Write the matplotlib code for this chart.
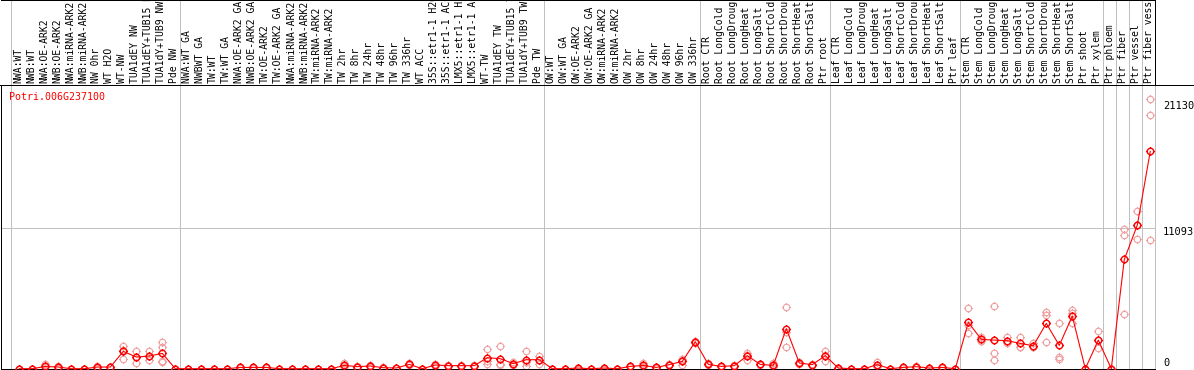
import matplotlib
matplotlib.use("Agg")
import matplotlib.pyplot as plt
import matplotlib.path as mpath
import matplotlib.transforms as mtransforms
from matplotlib.lines import Line2D

labels = [
    "NWA:WT", "NWB:WT", "NWA:OE-ARK2", "NWB:OE-ARK2", "NWA:miRNA-ARK2", "NWB:miRNA-ARK2",
    "NW 0hr", "WT H2O", "WT-NW", "TUA1dEY NW", "TUA1dEY+TUB15 NW", "TUA1dY+TUB9 NW", "Pde NW",
    "NWA:WT GA", "NWBWT GA", "TW:WT", "TW:WT GA", "NWA:OE-ARK2 GA", "NWB:OE-ARK2 GA",
    "TW:OE-ARK2", "TW:OE-ARK2 GA", "NWA:miRNA-ARK2", "NWB:miRNA-ARK2", "TW:miRNA-ARK2",
    "TW:miRNA-ARK2", "TW 2hr", "TW 8hr", "TW 24hr", "TW 48hr", "TW 96hr", "TW 336hr", "WT ACC",
    "35S::etr1-1 H2O", "35S::etr1-1 ACC", "LMX5::etr1-1 H2O", "LMX5::etr1-1 ACC", "WT-TW",
    "TUA1dEY TW", "TUA1dEY+TUB15 TW", "TUA1dY+TUB9 TW", "Pde TW",
    "OW:WT", "OW:WT GA", "OW:OE-ARK2", "OW:OE-ARK2 GA", "OW:miRNA-ARK2", "OW:miRNA-ARK2",
    "OW 2hr", "OW 8hr", "OW 24hr", "OW 48hr", "OW 96hr", "OW 336hr",
    "Root CTR", "Root LongCold", "Root LongDrought", "Root LongHeat", "Root LongSalt",
    "Root ShortCold", "Root ShortDrought", "Root ShortHeat", "Root ShortSalt", "Ptr root",
    "Leaf CTR", "Leaf LongCold", "Leaf LongDrought", "Leaf LongHeat", "Leaf LongSalt",
    "Leaf ShortCold", "Leaf ShortDrought", "Leaf ShortHeat", "Leaf ShortSalt", "Ptr leaf",
    "Stem CTR", "Stem LongCold", "Stem LongDrought", "Stem LongHeat", "Stem LongSalt",
    "Stem ShortCold", "Stem ShortDrought", "Stem ShortHeat", "Stem ShortSalt", "Ptr shoot",
    "Ptr xylem", "Ptr phloem", "Ptr fiber", "Ptr vessel", "Ptr fiber vessel",
]

main_values = [
    0, 0, 180, 130, 0, 0, 130, 130, 1370, 920, 1000, 1210, 0,
    0, 0, 0, 0, 100, 100, 100, 0, 0, 0, 0, 0, 260, 160, 210, 80, 55, 340, 0, 290, 240,
    240, 240, 870, 790, 400, 710, 710,
    0, 0, 50, 0, 50, 0, 180, 260, 100, 320, 580, 2130,
    340, 180, 240, 1030, 340, 260, 3160, 450, 320, 1030,
    50, 0, 0, 320, 0, 100, 160, 50, 100, 0,
    3660, 2315, 2260, 2210, 2000, 1815, 3580, 1840, 4160, 0, 2260,
    0, 8630, 11340, 17180,
]

replicates = [
    [0, 0, 0], [0, 0, 0], [390, 150, 0], [200, 120, 70], [0, 0, 0], [0, 0, 0],
    [180, 130, 80], [160, 130, 100], [1820, 1500, 790], [1370, 920, 470],
    [1370, 970, 660], [2080, 1680, 580, 500], [0, 0, 0],
    [0, 0, 0], [0, 0, 0], [0, 0, 0], [0, 0, 0], [150, 100, 50], [130, 100, 70],
    [140, 100, 60], [0, 0, 0], [0, 0, 0], [0, 0, 0], [0, 0, 0], [0, 0, 0],
    [450, 230, 100], [200, 160, 120], [280, 210, 140], [120, 80, 40], [80, 55, 30],
    [420, 340, 260], [0, 0, 0], [380, 290, 200], [300, 240, 180], [290, 240, 190],
    [300, 240, 180], [1580, 630, 400], [1760, 350, 260], [500, 400, 300],
    [1400, 490, 240], [1030, 700, 400],
    [0, 0, 0], [0, 0, 0], [90, 50, 10], [0, 0, 0], [90, 50, 10], [0, 0, 0],
    [230, 180, 130], [450, 200, 130], [140, 100, 60], [380, 320, 260],
    [800, 680, 260], [2200, 2130, 2060],
    [420, 340, 260], [230, 180, 130], [300, 240, 180], [1260, 1110, 710],
    [400, 340, 280], [470, 200, 110], [4850, 2890, 1740], [520, 450, 380],
    [380, 320, 260], [1400, 1110, 580],
    [90, 50, 10], [0, 0, 0], [0, 0, 0], [520, 320, 120], [0, 0, 0], [140, 100, 60],
    [200, 160, 120], [90, 50, 10], [140, 100, 60], [0, 0, 0],
    [4760, 3430, 2790], [2520, 2210, 2210], [4920, 1210, 680], [2470, 2160, 2000],
    [2520, 1740, 1740], [2000, 1740, 1710], [4500, 4230, 2100], [3580, 950, 790],
    [4630, 4370, 3580], [0, 0, 0], [2950, 2230, 1600],
    [0, 0, 0], [11030, 10530, 4290], [12440, 11370, 10210], [21340, 20070, 10130],
]

group_starts = [0, 13, 41, 53, 63, 73, 84, 85, 86, 87, 88]
ytick_values = [0, 11093, 21130]
ytick_labels = ["0", "11093", "21130"]
gene_name = "Potri.006G237100"

W, H = 1194, 370
fig = plt.figure(figsize=(W / 100, H / 100), dpi=100)
GRAY = "#c0c0c0"
PINK = "#f0a0a0"
MONO = "DejaVu Sans Mono"
LW = 0.72

xl = (-1.408, 87.362)
ax = fig.add_axes([1 / W, 1 / H, 1154 / W, 284 / H])
ax.set_xlim(*xl)
ax.set_ylim(-24, 22415)
ax.set_xticks([])
ax.set_yticks([])
for s in ["left", "bottom", "top"]:
    ax.spines[s].set_color("black")
    ax.spines[s].set_linewidth(LW)
ax.spines["right"].set_color(GRAY)
ax.spines["right"].set_linewidth(LW)

ax_top = fig.add_axes([1 / W, 285 / H, 1154 / W, 85 / H])
ax_top.set_xlim(*xl)
ax_top.set_ylim(0, 85)
ax_top.set_xticks([])
ax_top.set_yticks([])
ax_top.patch.set_alpha(0)
ax_top.spines["left"].set_visible(False)
ax_top.spines["bottom"].set_visible(False)
ax_top.spines["top"].set_linewidth(LW)
ax_top.spines["right"].set_linewidth(LW)

for g in group_starts[:-1]:
    for a in (ax, ax_top):
        a.axvline(g - 0.63, color=GRAY, lw=LW, zorder=0)

ax.axhline(11093, color=GRAY, lw=LW, zorder=0)

fig.add_artist(Line2D([0, 1], [285 / H, 285 / H], transform=fig.transFigure,
                      color="black", lw=LW))

for i, lab in enumerate(labels):
    ax_top.text(i - 0.1, 2, lab, rotation=90, ha="center", va="bottom",
                fontsize=7, family=MONO, color="black", clip_on=False)

# custom marker: circle with four outward ticks
circ = mpath.Path.unit_circle()
verts = list(circ.vertices)
codes = list(circ.codes)
for dx, dy in [(0, 1), (0, -1), (1, 0), (-1, 0)]:
    verts += [(dx * 1.0, dy * 1.0), (dx * 1.4, dy * 1.4)]
    codes += [mpath.Path.MOVETO, mpath.Path.LINETO]
marker = mpath.Path(verts, codes)

for i, r in enumerate(replicates):
    ax.plot([i] * len(r), r, linestyle="none", marker=marker, ms=6.5,
            mfc="none", mec=PINK, mew=0.8, clip_on=False, zorder=2)

ax.plot(range(len(main_values)), main_values, color="red", lw=0.8,
        marker=marker, ms=6.5, mfc="none", mec="red", mew=1.0,
        clip_on=False, zorder=3)

fig.text(9 / W, 1 - 97 / H, gene_name, color="red", ha="left", va="center",
         fontsize=7.2, family=MONO)

blend = mtransforms.blended_transform_factory(fig.transFigure, ax.transData)
offsets = [6, -4, -5]
for v, t, off in zip(ytick_values, ytick_labels, offsets):
    tr = mtransforms.offset_copy(blend, fig=fig, y=off, units="dots")
    ax.text(1163 / W, v, t, transform=tr, ha="left", va="center",
            fontsize=7.5, family=MONO, color="black", clip_on=False)

fig.savefig("out.png", dpi=100)
